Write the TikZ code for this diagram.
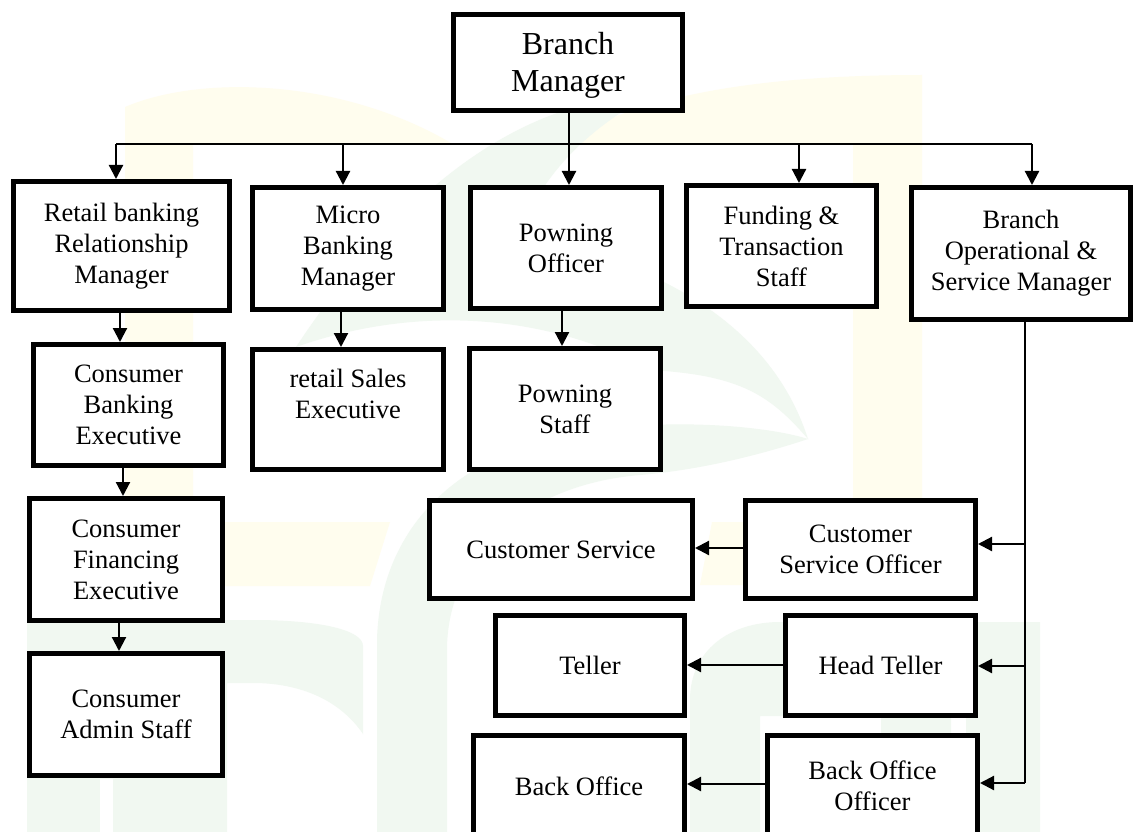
\documentclass[tikz,border=0pt]{standalone}
\usepackage{fontspec}
\setmainfont{Liberation Serif}
\usetikzlibrary{arrows.meta}
\definecolor{wmY}{RGB}{255,253,238}
\definecolor{wmG}{RGB}{241,248,241}
\begin{document}
\begin{tikzpicture}[x=1pt,y=-1pt,
  box/.style={draw, line width=5pt, fill=white, align=center, inner sep=0pt, font=\fontsize{26.5}{31}\selectfont},
  bigtxt/.style={align=center, inner sep=0pt, font=\fontsize{32}{37}\selectfont},
  conn/.style={line width=2.2pt},
  arr/.style={line width=2.2pt, -{Triangle[width=14pt,length=14pt]}},
  wmy/.style={fill=wmY, draw=none},
  wmg/.style={fill=wmG, draw=none}]
\useasboundingbox (0,0) rectangle (1133,832);
\clip (0,0) rectangle (1133,832);
\fill[white] (0,0) rectangle (1133,832);
% faint background logo
\fill[wmy] (125,586) -- (125,107) .. controls (200,75) and (340,78) .. (451,143) -- (193,143) -- (193,522) -- (390,522) -- (370,586) -- cycle;
\fill[wmy] (560,143) .. controls (640,95) and (760,75) .. (922,75) -- (922,585) -- (700,585) -- (712,522) -- (853,522) -- (853,143) -- cycle;
\fill[wmg] (27,832) -- (27,620) -- (253,620) .. controls (320,620) and (363,630) .. (363,646) -- (363,734) .. controls (340,700) and (300,683) .. (253,683) -- (227,683) -- (227,832) -- cycle;
\fill[white] (100,779) rectangle (113,832);
\fill[wmg] (377,832) -- (377,640) .. controls (380,520) and (470,430) .. (650,425) .. controls (720,422) and (780,430) .. (808,439) .. controls (760,455) and (700,470) .. (640,475) .. controls (520,485) and (447,560) .. (447,650) -- (447,832) -- cycle;
\fill[wmg] (296,347) .. controls (360,250) and (450,150) .. (560,112) -- (625,110) .. controls (570,145) and (535,190) .. (520,235) .. controls (650,260) and (770,320) .. (808,439) .. controls (770,395) and (740,375) .. (650,370) .. controls (560,320) and (430,300) .. (296,347) -- cycle;
\fill[wmg, even odd rule] (690,832) -- (690,700) .. controls (690,650) and (730,622) .. (780,622) -- (1040,622) -- (1040,832) -- cycle (760,716) rectangle (881,832) (951,690) rectangle (966,832);
% boxes
\node[box, minimum width=229pt, minimum height=96pt] (bm) at (568,62.5) {};
\node[bigtxt] (bmtext) at ([yshift=-3pt]bm.center) {Branch\\Manager};
\node[box, minimum width=216pt, minimum height=129pt] (retail) at (121.5,246) {Retail banking\\Relationship\\Manager};
\node[box, minimum width=191pt, minimum height=122pt] (micro) at (348,248.5) {Micro\\Banking\\Manager};
\node[box, minimum width=191pt, minimum height=121pt] (po) at (566,248) {Powning\\Officer};
\node[box, minimum width=190pt, minimum height=121pt] (fund) at (781.5,246) {Funding \&\\Transaction\\Staff};
\node[box, minimum width=219pt, minimum height=132pt] (bosm) at (1021,253.5) {Branch\\Operational \&\\Service Manager};
\node[box, minimum width=190pt, minimum height=121pt] (cb) at (128.5,405) {Consumer\\Banking\\Executive};
\node[box, minimum width=191pt, minimum height=120pt] (rse) at (348,409.5) {retail Sales\\Executive\\\mbox{}};
\node[box, minimum width=191pt, minimum height=121pt] (ps) at (565,409) {Powning\\Staff};
\node[box, minimum width=193pt, minimum height=122pt] (cf) at (126,559.5) {Consumer\\Financing\\Executive};
\node[box, minimum width=193pt, minimum height=122pt] (ca) at (126,714.5) {Consumer\\Admin Staff};
\node[box, minimum width=263pt, minimum height=98pt] (cs) at (561,549.5) {Customer Service};
\node[box, minimum width=230pt, minimum height=98pt] (cso) at (860.5,549.5) {Customer\\Service Officer};
\node[box, minimum width=189pt, minimum height=100pt] (teller) at (590,665.5) {Teller};
\node[box, minimum width=190pt, minimum height=100pt] (ht) at (880.5,665.5) {Head Teller};
\node[box, minimum width=211pt, minimum height=101pt] (bo) at (579,786) {Back Office};
\node[box, minimum width=210pt, minimum height=101pt] (boo) at (872.5,786) {Back Office\\Officer};
% top bus
\coordinate (d1) at (116,144);
\coordinate (d2) at (343,144);
\coordinate (d3) at (569,144);
\coordinate (d4) at (799,144);
\coordinate (d5) at (1032,144);
\draw[conn] (d1) -- (d5);
\draw[conn] (bm.south -| d3) -- (d3);
\draw[arr] (d1) -- (d1 |- retail.north);
\draw[arr] (d2) -- (d2 |- micro.north);
\draw[arr] (d3) -- (d3 |- po.north);
\draw[arr] (d4) -- (d4 |- fund.north);
\draw[arr] (d5) -- (d5 |- bosm.north);
% vertical chains
\path (retail.south) ++(-1.5,0) coordinate (v1);
\path (cb.south) ++(-5.5,0) coordinate (v2);
\path (cf.south) ++(-7,0) coordinate (v3);
\path (micro.south) ++(-7,0) coordinate (v4);
\path (po.south) ++(-4,0) coordinate (v5);
\draw[arr] (v1) -- (v1 |- cb.north);
\draw[arr] (v2) -- (v2 |- cf.north);
\draw[arr] (v3) -- (v3 |- ca.north);
\draw[arr] (v4) -- (v4 |- rse.north);
\draw[arr] (v5) -- (v5 |- ps.north);
% right bus
\path (bosm.south) ++(4,0) coordinate (r0);
\path (cso.east) ++(0,-5.5) coordinate (e1);
\path (ht.east) ++(0,0.5) coordinate (e2);
\path (boo.east) ++(0,-3) coordinate (e3);
\draw[conn] (r0) -- (r0 |- e3);
\draw[arr] (r0 |- e1) -- (e1);
\draw[arr] (r0 |- e2) -- (e2);
\draw[arr] (r0 |- e3) -- (e3);
% horizontal left arrows
\path (cso.west) ++(0,-1.5) coordinate (w1);
\path (ht.west) ++(0,-0.5) coordinate (w2);
\path (boo.west) ++(0,-2) coordinate (w3);
\draw[arr] (w1) -- (w1 -| cs.east);
\draw[arr] (w2) -- (w2 -| teller.east);
\draw[arr] (w3) -- (w3 -| bo.east);
\end{tikzpicture}
\end{document}
